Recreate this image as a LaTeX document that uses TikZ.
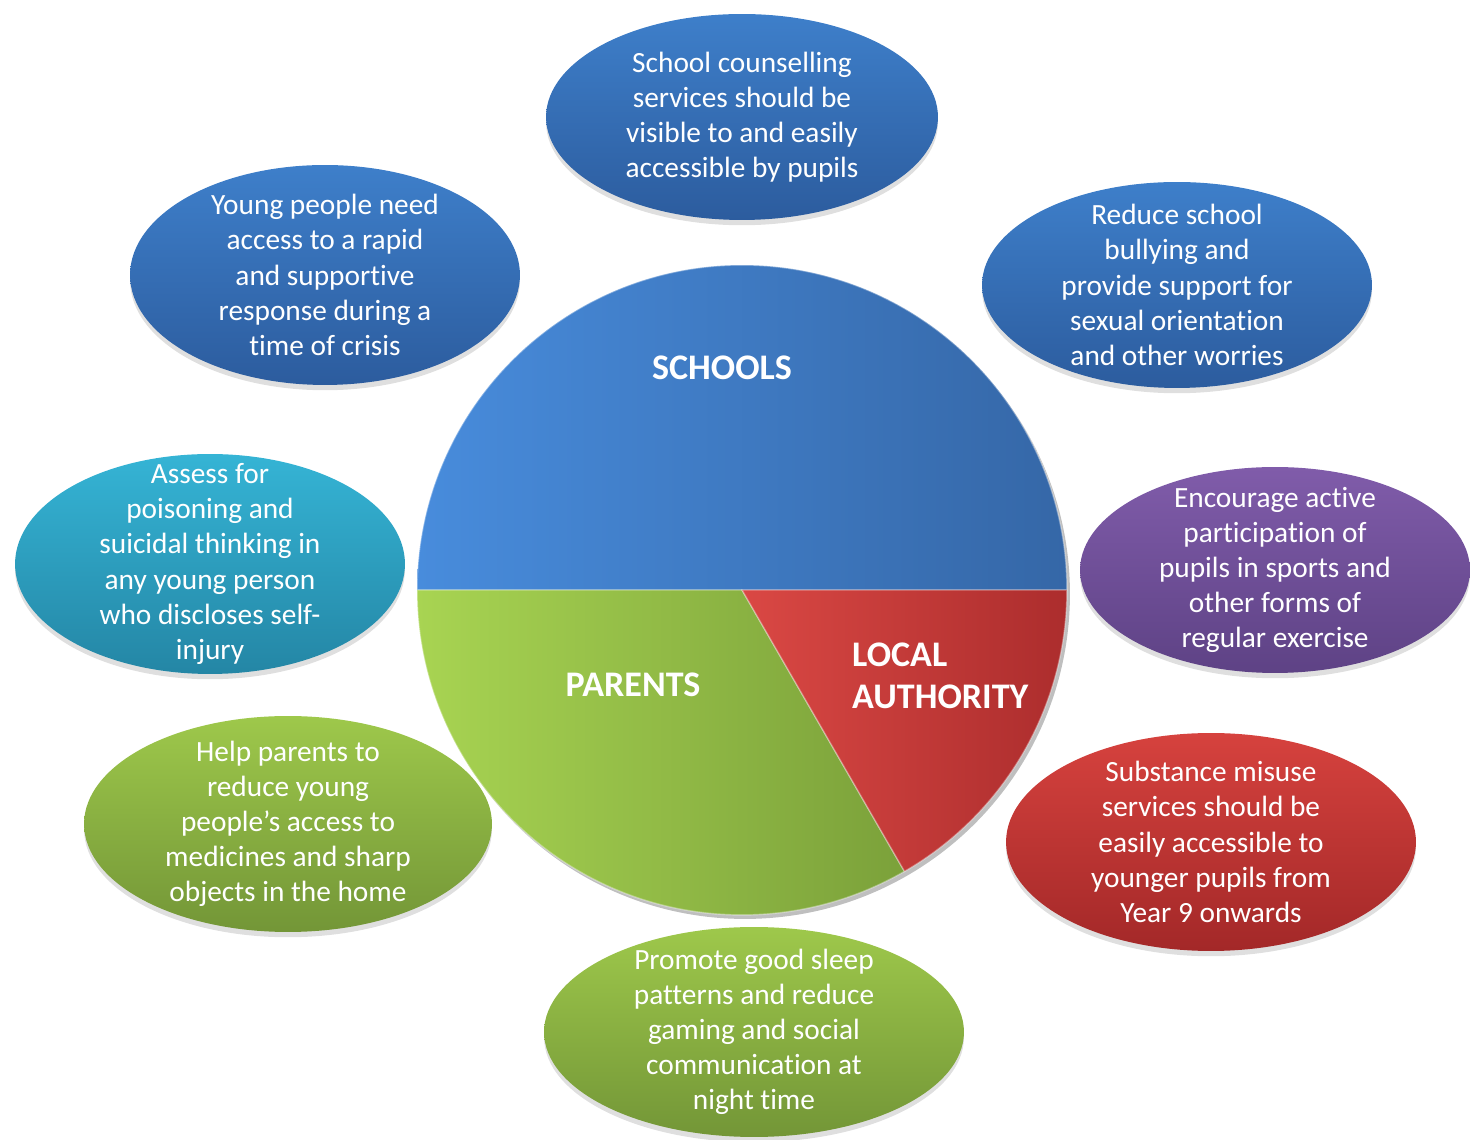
\documentclass[tikz,border=0pt]{standalone}
\usepackage{fontspec}
\setmainfont[Ligatures=NoCommon]{Carlito}
\usetikzlibrary{shapes.geometric,shadows}

\definecolor{bluetop}{RGB}{62,127,202}
\definecolor{bluebot}{RGB}{44,92,158}
\definecolor{cyantop}{RGB}{53,180,213}
\definecolor{cyanbot}{RGB}{36,134,165}
\definecolor{purptop}{RGB}{128,92,170}
\definecolor{purpbot}{RGB}{94,66,133}
\definecolor{greentop}{RGB}{158,200,75}
\definecolor{greenbot}{RGB}{115,150,55}
\definecolor{redtop}{RGB}{214,66,62}
\definecolor{redbot}{RGB}{163,40,40}
\definecolor{schooll}{RGB}{72,140,220}
\definecolor{schoolr}{RGB}{53,103,167}
\definecolor{parentl}{RGB}{168,212,82}
\definecolor{parentr}{RGB}{123,161,58}
\definecolor{authl}{RGB}{218,72,68}
\definecolor{authr}{RGB}{172,45,45}

\begin{document}
\begin{tikzpicture}[x=0.02cm,y=0.02cm,
    bubble/.style={ellipse,inner xsep=0pt,inner ysep=-1.5cm,text=white,align=center,
      font=\fontsize{16.7pt}{20pt}\selectfont,
      drop shadow={shadow xshift=0pt,shadow yshift=-3pt,opacity=0.25}},
    blueball/.style={top color=bluetop,bottom color=bluebot},
    cyanball/.style={top color=cyantop,bottom color=cyanbot},
    purpball/.style={top color=purptop,bottom color=purpbot},
    greenball/.style={top color=greentop,bottom color=greenbot},
    redball/.style={top color=redtop,bottom color=redbot},
    sector/.style={draw=white,draw opacity=0.35,line width=0.8pt},
    sectlabel/.style={text=white,font=\fontsize{20.5pt}{24pt}\selectfont\bfseries}]
  \def\cx{742} \def\cy{549} \def\rr{6.5cm}
  \useasboundingbox (0,0) rectangle (1470,1139);

  \node (counsel) at (742,1022) [bubble,blueball,minimum width=7.84cm,minimum height=4.12cm]
    {School counselling\\services should be\\visible to and easily\\accessible by pupils};
  \node (crisis) at (325,864) [bubble,blueball,minimum width=7.8cm,minimum height=4.4cm]
    {Young people need\\access to a rapid\\and supportive\\response during a\\time of crisis};
  \node (bully) at (1177,854) [bubble,blueball,minimum width=7.8cm,minimum height=4.12cm]
    {Reduce school\\bullying and\\provide support for\\sexual orientation\\and other worries};
  \node (assess) at (210,575) [bubble,cyanball,minimum width=7.8cm,minimum height=4.4cm]
    {Assess for\\poisoning and\\suicidal thinking in\\any young person\\who discloses self-\\injury};
  \node (sport) at (1275,569) [bubble,purpball,minimum width=7.8cm,minimum height=4.12cm]
    {Encourage active\\participation of\\pupils in sports and\\other forms of\\regular exercise};
  \node (help) at (288,315) [bubble,greenball,minimum width=8.16cm,minimum height=4.32cm]
    {Help parents to\\reduce young\\people’s access to\\medicines and sharp\\objects in the home};
  \node (misuse) at (1211,297) [bubble,redball,minimum width=8.2cm,minimum height=4.36cm]
    {Substance misuse\\services should be\\easily accessible to\\younger pupils from\\Year 9 onwards};
  \node (sleep) at (754,107) [bubble,greenball,minimum width=8.4cm,minimum height=4.2cm]
    {Promote good sleep\\patterns and reduce\\gaming and social\\communication at\\night time};

  \fill[black,opacity=0.25] (\cx+3,\cy-4) circle[radius=\rr];
  \shade[sector,left color=schooll,right color=schoolr] (\cx,\cy) -- ++(0:\rr)
    arc[start angle=0,end angle=180,radius=\rr] -- cycle;
  \shade[sector,left color=parentl,right color=parentr] (\cx,\cy) -- ++(180:\rr)
    arc[start angle=180,end angle=300,radius=\rr] -- cycle;
  \shade[sector,left color=authl,right color=authr] (\cx,\cy) -- ++(300:\rr)
    arc[start angle=300,end angle=360,radius=\rr] -- cycle;

  \node (schools) at (722,771) [sectlabel] {SCHOOLS};
  \node (parents) at (633,454) [sectlabel] {PARENTS};
  \node (localauth) at (846,463) [sectlabel,anchor=west,align=left] {LOCAL\\AUTHORITY};
\end{tikzpicture}
\end{document}
